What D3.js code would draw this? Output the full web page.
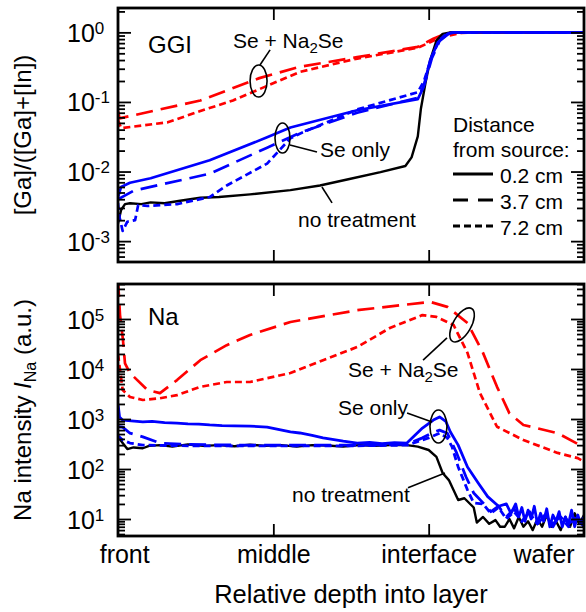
<!DOCTYPE html>
<html>
<head>
<meta charset="utf-8">
<script src="https://cdn.jsdelivr.net/npm/d3@7"></script>
<style>
  body { margin: 0; background: #fff; }
  svg text { font-family: "Liberation Sans", Arial, sans-serif; fill: #000; }
</style>
</head>
<body>
<div id="chart"></div>
<script>
// ---- data: [relative depth, value] ----
// depth units: 0 = front, 1 = middle, 2 = interface
const depthLabels = ["front", "middle", "interface", "wafer"];
const depthLabelPos = [0.04, 1, 2, 2.74];
const depthTicks = [1, 2];

const ggiTicks = [1e-3, 1e-2, 1e-1, 1];
const naTicks = [1e1, 1e2, 1e3, 1e4, 1e5];

// GGI panel
const ggiBlack = [[0,1.8e-3],[0.02,2.8e-3],[0.045,3.4e-3],[0.077,3.5e-3],[0.15,3.4e-3],[0.21,3.6e-3],[0.3,3.5e-3],[0.4,3.8e-3],[0.53,4.2e-3],[0.65,4.3e-3],[0.85,4.7e-3],[1.11,5.4e-3],[1.3,6.3e-3],[1.49,7.8e-3],[1.69,9.8e-3],[1.85,1.2e-2],[1.89,1.6e-2],[1.93,3.2e-2],[1.95,8e-2],[1.98,0.19],[2.01,0.4],[2.05,0.76],[2.09,0.95],[2.14,1],[3,1]];
const ggiBlueSolid = [[0,4.3e-3],[0.02,6.0e-3],[0.077,6.9e-3],[0.21,8.0e-3],[0.59,1.45e-2],[0.96,3.1e-2],[1.11,4.3e-2],[1.54,7.6e-2],[1.93,0.11],[1.965,0.16],[2.01,0.4],[2.06,0.72],[2.12,0.95],[2.17,1],[3,1]];
const ggiBlueLong = [[0,4.0e-3],[0.1,5.3e-3],[0.59,9.3e-3],[0.96,2.2e-2],[1.17,3.6e-2],[1.54,7.0e-2],[1.93,0.115],[1.97,0.17],[2.02,0.42],[2.07,0.75],[2.13,0.96],[2.18,1],[3,1]];
const ggiBlueShort = [[0,3.5e-3],[0.01,2.2e-3],[0.03,1.4e-3],[0.06,1.9e-3],[0.11,2.0e-3],[0.13,3.3e-3],[0.19,3.2e-3],[0.38,3.4e-3],[0.59,4.3e-3],[0.70,6.3e-3],[0.96,1.3e-2],[1.11,3.0e-2],[1.17,3.5e-2],[1.54,7.8e-2],[1.93,0.138],[1.97,0.2],[2.02,0.45],[2.07,0.78],[2.12,0.97],[2.16,1],[3,1]];
const ggiRedLong = [[0,0.075],[0.01,0.058],[0.53,0.105],[0.91,0.22],[1.17,0.32],[1.54,0.44],[1.93,0.62],[2.03,0.81],[2.12,0.98],[2.27,1],[3,1]];
const ggiRedShort = [[0,0.055],[0.02,0.042],[0.32,0.051],[0.53,0.074],[0.74,0.105],[1.17,0.27],[1.54,0.42],[1.93,0.6],[2.08,0.85],[2.21,0.98],[2.31,1],[3,1]];

// Na panel
const naRedLong = [[0,6e5],[0.013,1.2e5],[0.032,3.8e4],[0.045,1.3e4],[0.077,8300],[0.19,3800],[0.27,3300],[0.38,6000],[0.53,15000],[0.70,30000],[0.85,48000],[1.11,87000],[1.54,150000],[2.01,220000],[2.12,175000],[2.25,83000],[2.35,21000],[2.44,4400],[2.52,1300],[2.61,760],[2.83,520],[2.95,330],[3,275]];
const naRedShort = [[0,2.0e4],[0.03,3800],[0.077,2750],[0.16,2400],[0.27,2600],[0.38,3000],[0.53,4400],[0.70,5500],[0.85,5500],[1.11,8300],[1.32,15000],[1.54,27500],[1.75,66000],[1.96,120000],[2.05,110000],[2.16,76000],[2.25,21000],[2.33,3300],[2.44,700],[2.61,380],[2.83,210],[2.96,165],[3,140]];
const naBlueSolid = [[0,2000],[0.01,1100],[0.03,950],[0.16,880],[0.22,900],[0.3,850],[0.38,830],[0.45,800],[0.52,790],[0.59,760],[0.67,740],[0.75,730],[0.85,720],[0.96,690],[1.11,550],[1.17,525],[1.25,470],[1.32,420],[1.45,360],[1.54,330],[1.62,340],[1.7,320],[1.78,335],[1.86,330],[1.96,660],[2.03,950],[2.07,1100],[2.11,900],[2.14,550],[2.19,300],[2.25,110],[2.32,52],[2.38,28],[2.45,18],[2.5,20],[2.53,13],[2.56,20],[2.58,11],[2.6,17],[2.62,9],[2.64,15],[2.66,10],[2.68,18],[2.7,8],[2.72,13],[2.74,9],[2.76,16],[2.78,7],[2.8,12],[2.82,9],[2.84,14],[2.86,7],[2.88,11],[2.9,8],[2.92,15],[2.94,7],[2.96,12],[2.98,8],[3,11]];
const naBlueLong = [[0,700],[0.03,690],[0.077,520],[0.16,440],[0.27,330],[0.45,310],[0.8,300],[1.2,300],[1.5,300],[1.86,310],[1.96,420],[2.03,540],[2.07,600],[2.12,520],[2.18,210],[2.24,70],[2.29,33],[2.35,21],[2.4,14],[2.45,18],[2.5,11],[2.55,16],[2.6,9],[2.65,14],[2.7,8],[2.75,12],[2.8,7],[2.85,13],[2.9,8],[2.95,11],[3,7]];
const naBlueShort = [[0,460],[0.03,380],[0.077,330],[0.16,300],[0.5,290],[1.0,290],[1.5,290],[1.86,300],[2.0,420],[2.07,520],[2.12,420],[2.15,280],[2.19,110],[2.25,38],[2.29,21],[2.35,20],[2.4,13],[2.45,17],[2.5,10],[2.55,14],[2.6,9],[2.65,13],[2.7,8],[2.75,12],[2.8,8],[2.85,11],[2.9,7],[2.95,10],[3,8]];
const naBlack = [[0,440],[0.03,330],[0.06,250],[0.1,270],[0.16,260],[0.2,290],[0.27,300],[0.35,280],[0.45,310],[0.55,290],[0.65,300],[0.75,285],[0.85,305],[0.95,290],[1.05,300],[1.15,280],[1.25,300],[1.35,295],[1.45,280],[1.55,300],[1.65,290],[1.75,300],[1.86,300],[1.93,280],[2.0,240],[2.05,175],[2.09,83],[2.13,60],[2.16,38],[2.19,24],[2.23,26],[2.29,17],[2.31,8.5],[2.35,11],[2.39,8],[2.43,9.5],[2.46,7],[2.49,7],[2.52,10],[2.55,6.5],[2.58,11],[2.61,7],[2.64,9],[2.67,6],[2.7,10],[2.73,7],[2.76,12],[2.79,7],[2.82,9],[2.85,6],[2.88,11],[2.91,7],[2.94,13],[2.97,8],[3,12]];

// ---- layout ----
const W = 586, H = 612;
const left = 118, right = 584;
const LONG = "17,8", SHORT = "7,4";

const svg = d3.select("#chart").append("svg")
    .attr("width", W)
    .attr("height", H);

const x = d3.scaleLinear().domain([0, 3]).range([left, right]);
const yG = d3.scaleLog().domain([Math.pow(10, -3.3), Math.pow(10, 0.35)]).range([262, 8]);
const yN = d3.scaleLog().domain([Math.pow(10, 0.66), Math.pow(10, 5.7)]).range([536, 284]);

function drawPanel(id, y, majors, series) {
    const [y1, y0] = y.range();
    const g = svg.append("g");

    g.append("clipPath").attr("id", "clip-" + id)
        .append("rect")
        .attr("x", left).attr("y", y0)
        .attr("width", right - left).attr("height", y1 - y0);

    const line = d3.line().x(d => x(d[0])).y(d => y(d[1]));
    g.append("g").attr("clip-path", `url(#clip-${id})`)
        .selectAll("path")
        .data(series)
        .join("path")
        .attr("d", s => line(s.data))
        .attr("fill", "none")
        .attr("stroke", s => s.color)
        .attr("stroke-width", s => s.width)
        .attr("stroke-dasharray", s => s.dash)
        .attr("stroke-linejoin", "round");

    // minor log ticks (2..9 of each decade), both sides, pointing inward
    const minors = y.ticks().filter(t => Math.abs(Math.log10(t) - Math.round(Math.log10(t))) > 1e-6);
    g.append("g").attr("transform", `translate(${left},0)`)
        .call(d3.axisLeft(y).tickValues(minors).tickSize(-7).tickFormat(""));
    g.append("g").attr("transform", `translate(${right},0)`)
        .call(d3.axisRight(y).tickValues(minors).tickSize(-7).tickFormat(""));
    g.append("g").attr("transform", `translate(${right},0)`)
        .call(d3.axisRight(y).tickValues(majors).tickSize(-13).tickFormat(""));

    // major ticks with 10^n labels
    const ax = g.append("g").attr("transform", `translate(${left},0)`)
        .call(d3.axisLeft(y).tickValues(majors).tickSize(-13).tickFormat(""));
    ax.selectAll(".tick text")
        .attr("x", -51)
        .attr("dy", "0.36em")
        .attr("text-anchor", "start")
        .style("font-size", "25px")
        .each(function (d) {
            const t = d3.select(this);
            t.append("tspan").text("10");
            t.append("tspan").attr("dy", -8).style("font-size", "17px").text(Math.round(Math.log10(d)));
        });

    // depth ticks on top and bottom edges
    g.append("g").attr("transform", `translate(0,${y0})`)
        .call(d3.axisTop(x).tickValues(depthTicks).tickSize(-12).tickFormat(""));
    g.append("g").attr("transform", `translate(0,${y1})`)
        .call(d3.axisBottom(x).tickValues(depthTicks).tickSize(-12).tickFormat(""));

    g.selectAll(".domain").remove();
    g.selectAll(".tick line").attr("stroke", "#000").attr("stroke-width", 1.8);

    g.append("rect")
        .attr("x", left).attr("y", y0)
        .attr("width", right - left).attr("height", y1 - y0)
        .attr("fill", "none").attr("stroke", "#000").attr("stroke-width", 2.8);
    return g;
}

drawPanel("ggi", yG, ggiTicks, [
    { data: ggiRedLong, color: "#ff0000", dash: LONG, width: 2.7 },
    { data: ggiRedShort, color: "#ff0000", dash: SHORT, width: 2.7 },
    { data: ggiBlack, color: "#000", dash: null, width: 2.4 },
    { data: ggiBlueLong, color: "#0000ff", dash: LONG, width: 2.7 },
    { data: ggiBlueShort, color: "#0000ff", dash: SHORT, width: 2.7 },
    { data: ggiBlueSolid, color: "#0000ff", dash: null, width: 2.7 }
]);

drawPanel("na", yN, naTicks, [
    { data: naRedLong, color: "#ff0000", dash: LONG, width: 2.7 },
    { data: naRedShort, color: "#ff0000", dash: SHORT, width: 2.7 },
    { data: naBlack, color: "#000", dash: null, width: 2.4 },
    { data: naBlueLong, color: "#0000ff", dash: LONG, width: 2.8 },
    { data: naBlueShort, color: "#0000ff", dash: SHORT, width: 2.8 },
    { data: naBlueSolid, color: "#0000ff", dash: null, width: 2.8 }
]);

// depth labels under the lower panel
svg.append("g").attr("transform", "translate(0,536)")
    .call(d3.axisBottom(x).tickValues(depthLabelPos).tickSize(0).tickPadding(9)
        .tickFormat((d, i) => depthLabels[i]))
    .call(g => g.select(".domain").remove())
    .selectAll("text")
    .style("font-size", "25px");

svg.append("text")
    .attr("x", (left + right) / 2).attr("y", 603)
    .attr("text-anchor", "middle")
    .style("font-size", "25.5px")
    .text("Relative depth into layer");

// y axis titles
svg.append("text")
    .attr("transform", `translate(31,${(8 + 262) / 2}) rotate(-90)`)
    .attr("text-anchor", "middle")
    .style("font-size", "24px")
    .text("[Ga]/([Ga]+[In])");

const naTitle = svg.append("text")
    .attr("transform", `translate(31,${(284 + 536) / 2}) rotate(-90)`)
    .attr("text-anchor", "middle")
    .style("font-size", "24px");
naTitle.append("tspan").text("Na intensity ");
naTitle.append("tspan").style("font-style", "italic").text("I");
naTitle.append("tspan").attr("dy", 5).style("font-size", "16px").text("Na");
naTitle.append("tspan").attr("dy", -5).text(" (a.u.)");

// panel names
svg.append("text").attr("x", x(0.193)).attr("y", yG(0.506))
    .style("font-size", "24px").text("GGI");
svg.append("text").attr("x", x(0.193)).attr("y", yN(76000))
    .style("font-size", "24px").text("Na");

// annotations: ellipse + pointer + label, positioned in data coordinates
function annotate(y, a) {
    const g = svg.append("g");
    if (a.ellipse) {
        const cx = x(a.ellipse[0]), cy = y(a.ellipse[1]);
        g.append("ellipse")
            .attr("cx", cx).attr("cy", cy)
            .attr("rx", a.rx).attr("ry", a.ry)
            .attr("transform", `rotate(${a.rot || 0},${cx},${cy})`)
            .attr("fill", "none").attr("stroke", "#000").attr("stroke-width", 1.6);
    }
    g.append("line")
        .attr("x1", x(a.from[0])).attr("y1", y(a.from[1]))
        .attr("x2", x(a.to[0])).attr("y2", y(a.to[1]))
        .attr("stroke", "#000").attr("stroke-width", 1.6);
    const t = g.append("text")
        .attr("x", x(a.text[0])).attr("y", y(a.text[1]))
        .style("font-size", "21px");
    if (a.sub) {
        t.append("tspan").text("Se + Na");
        t.append("tspan").attr("dy", 5).style("font-size", "15px").text("2");
        t.append("tspan").attr("dy", -5).text("Se");
    } else {
        t.text(a.label);
    }
}

annotate(yG, { sub: true, text: [0.74, 0.6], ellipse: [0.905, 0.2], rx: 8.5, ry: 16, from: [0.914, 0.34], to: [0.979, 0.56] });
annotate(yG, { label: "Se only", text: [1.3, 0.0162], ellipse: [1.059, 0.0304], rx: 7.5, ry: 15, from: [1.107, 0.0241], to: [1.281, 0.0191] });
annotate(yG, { label: "no treatment", text: [1.159, 1.6e-3], from: [1.313, 6.0e-3], to: [1.378, 3.54e-3] });

annotate(yN, { sub: true, text: [1.481, 6900], ellipse: [2.215, 76000], rx: 9, ry: 19, rot: 30, from: [2.118, 42000], to: [1.964, 15000] });
annotate(yN, { label: "Se only", text: [1.416, 1200], ellipse: [2.063, 710], rx: 8.5, ry: 16.5, from: [1.861, 1320], to: [2.022, 870] });
annotate(yN, { label: "no treatment", text: [1.12, 22], from: [1.867, 42], to: [2.105, 83] });

// legend for the line styles
const legendItems = ["0.2 cm", "3.7 cm", "7.2 cm"];
const legendDash = [null, "15,10", "7,4"];
const legend = svg.append("g").attr("transform", "translate(453,0)");
legend.append("text").attr("x", 0).attr("y", 132).style("font-size", "21px").text("Distance");
legend.append("text").attr("x", 0).attr("y", 157).style("font-size", "21px").text("from source:");
legendItems.forEach((lab, i) => {
    const yy = 174 + i * 26;
    legend.append("line")
        .attr("x1", 0).attr("x2", 40).attr("y1", yy).attr("y2", yy)
        .attr("stroke", "#000").attr("stroke-width", 2.8)
        .attr("stroke-dasharray", legendDash[i]);
    legend.append("text").attr("x", 47).attr("y", yy + 8.5)
        .style("font-size", "21px").text(lab);
});
</script>
</body>
</html>
